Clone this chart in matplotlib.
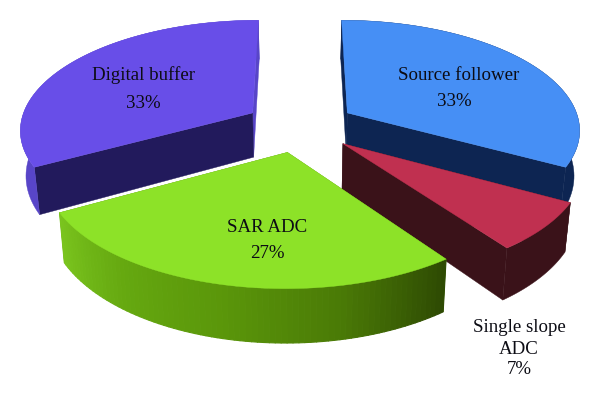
import numpy as np
import matplotlib
matplotlib.use('Agg')
import matplotlib.pyplot as plt
from matplotlib.colors import LinearSegmentedColormap

labels = ['Source follower', 'Single slope\nADC', 'SAR ADC', 'Digital buffer']
shares = [33, 7, 27, 33]

top_colors = ['#468ff5', '#c03050', '#8de228', '#684ee8']
wall_colors = ['#0d2552', '#3a1219', '#5a960a', '#221a5c']
arc_colors = ['#0d2552', '#3a1219', None, '#5845c8']
green_side = LinearSegmentedColormap.from_list('g', ['#2e4a03', '#4a7a06', '#5a960a', '#65a810', '#7ac41e'])

# pixel layout of the projection
cx, cy = 300, 126
rx, ry = 233, 109
persp = 0.14
explode = 0.24
depth = 45
shrink = 0.98


def project(x, y, bottom=False):
    s = 1 / (1 - persp * y)
    px = cx + rx * x * s
    py = cy + ry * y * s
    if bottom:
        px = cx + (px - cx) * shrink
        py = py + depth * s
    return px, py


def arc(t0, t1, ox, oy, bottom=False):
    t = np.radians(np.linspace(t0, t1, 80))
    return project(ox + np.sin(t), oy - np.cos(t), bottom)


def poly(ax, xs, ys, color, lw=0.3):
    ax.fill(xs, ys, color=color, lw=lw, joinstyle='round')


fig = plt.figure(figsize=(6, 4), dpi=100)
ax = fig.add_axes([0, 0, 1, 1])
ax.set_xlim(0, 600)
ax.set_ylim(400, 0)
ax.axis('off')

edges = np.cumsum([0] + shares) * 3.6

for i in [3, 0, 1, 2]:
    t0, t1 = edges[i], edges[i + 1]
    mid = np.radians((t0 + t1) / 2)
    ox, oy = explode * np.sin(mid), -explode * np.cos(mid)

    # radial walls, the back one of the digital buffer slice is lit
    ax0, ay0 = project(ox, oy)
    bx0, by0 = project(ox, oy, True)
    for t, col in ((t1, arc_colors[i] if i == 3 else wall_colors[i]), (t0, wall_colors[i])):
        ex, ey = arc(t, t, ox, oy)
        fx, fy = arc(t, t, ox, oy, True)
        poly(ax, [ax0, ex[0], fx[0], bx0], [ay0, ey[0], fy[0], by0], col)

    # outer side
    tx, ty = arc(t0, t1, ox, oy)
    ux, uy = arc(t0, t1, ox, oy, True)
    if arc_colors[i] is not None:
        poly(ax, np.r_[tx, ux[::-1]], np.r_[ty, uy[::-1]], arc_colors[i])
    else:
        for j in range(len(tx) - 1):
            poly(ax, [tx[j], tx[j + 1], ux[j + 1], ux[j]], [ty[j], ty[j + 1], uy[j + 1], uy[j]],
                 green_side(j / (len(tx) - 2)), lw=0.8)

    # top
    poly(ax, np.r_[ax0, tx], np.r_[ay0, ty], top_colors[i])

font = dict(family='Liberation Serif', fontsize=13.6, color='#0c0c14', ha='center', va='center')
ax.text(459, 76, labels[0], **font)
ax.text(454, 102, f'{shares[0]}%', **font)
ax.text(143, 75, labels[3], **font)
ax.text(143, 103, f'{shares[3]}%', **font)
ax.text(267, 228, labels[2], **font)
ax.text(267, 253, f'{shares[2]}%', **font)
single = labels[1].split('\n')
ax.text(519, 327, single[0], **font)
ax.text(519, 349, single[1], **font)
ax.text(519, 369, f'{shares[1]}%', **font)

fig.savefig('out.png', dpi=100)
